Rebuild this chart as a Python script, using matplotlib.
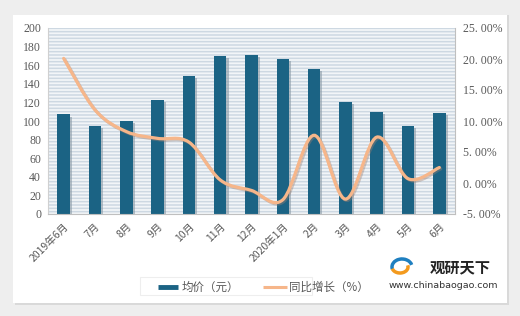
import numpy as np
import matplotlib
matplotlib.use('Agg')
import matplotlib.pyplot as plt
from matplotlib.path import Path
from matplotlib.patches import PathPatch, Rectangle, Arc
import matplotlib.patheffects as pe

plt.rcParams['font.family'] = ['Noto Sans CJK SC', 'DejaVu Sans']
plt.rcParams['hatch.linewidth'] = 1.1
plt.rcParams['hatch.color'] = '#cdd8e2'

months = ['2019年6月', '7月', '8月', '9月', '10月', '11月', '12月',
          '2020年1月', '2月', '3月', '4月', '5月', '6月']
avg_price = [107, 95, 100, 123, 148, 170, 171, 167, 156, 120, 110, 95, 109]
yoy_growth = [20.1, 11.8, 8.3, 7.2, 6.6, 0.5, -1.2, -2.7, 7.7, -2.6, 7.4, 0.7, 2.5]

BAR_COLOR = '#1b6384'
LINE_COLOR = '#f6b68a'
TEXT_COLOR = '#595959'


def smooth_path(xs, ys):
    # Bezier segments through every point, like Excel's smoothed line
    xs = np.asarray(xs, float)
    ys = np.asarray(ys, float)
    n = len(xs)
    verts = [(xs[0], ys[0])]
    codes = [Path.MOVETO]
    for i in range(n - 1):
        i0 = max(i - 1, 0)
        i3 = min(i + 2, n - 1)
        c1 = (xs[i] + (xs[i + 1] - xs[i0]) / 6, ys[i] + (ys[i + 1] - ys[i0]) / 6)
        c2 = (xs[i + 1] - (xs[i3] - xs[i]) / 6, ys[i + 1] - (ys[i3] - ys[i]) / 6)
        verts += [c1, c2, (xs[i + 1], ys[i + 1])]
        codes += [Path.CURVE4] * 3
    return Path(verts, codes)


fig = plt.figure(figsize=(5.2, 3.16), dpi=100)
fig.patch.set_facecolor('#eeeeee')

# white card with a soft shadow
fig.patches.append(Rectangle((15 / 520, 1 - 305 / 316), 494 / 520, 290 / 316,
                             transform=fig.transFigure, facecolor='#d9d9d9',
                             edgecolor='none', zorder=-3))
fig.patches.append(Rectangle((13 / 520, 1 - 303 / 316), 494 / 520, 288 / 316,
                             transform=fig.transFigure, facecolor='white',
                             edgecolor='none', zorder=-2))

ax = fig.add_axes([48 / 520, 1 - 214 / 316, 407 / 520, 186 / 316])
ax.set_facecolor('#f2f5f8')
ax.add_patch(Rectangle((0, 0), 1, 1, transform=ax.transAxes, facecolor='none',
                       edgecolor='#cdd8e2', hatch='-----', lw=0, zorder=0))

x = np.arange(len(months))
bars = ax.bar(x, avg_price, width=0.4, color=BAR_COLOR, zorder=2)
for b in bars:
    b.set_path_effects([pe.SimplePatchShadow(offset=(1.5, -1.5), shadow_rgbFace='#8a9aa6', alpha=0.6),
                        pe.Normal()])

ax.set_xlim(-0.5, len(months) - 0.5)
ax.set_ylim(0, 200)
ax.set_yticks(range(0, 201, 20))
ax.set_xticks(x)
ax.set_xticklabels(months, rotation=45, ha='right', rotation_mode='anchor')
ax.tick_params(length=0, colors=TEXT_COLOR, labelsize=7.5, pad=5)
for lbl in ax.get_yticklabels():
    lbl.set_family('Liberation Serif')
    lbl.set_fontsize(8.5)
for s in ['top', 'right']:
    ax.spines[s].set_visible(False)
ax.spines['left'].set_color('#d0d0d0')
ax.spines['bottom'].set_color('#bfbfbf')

ax2 = ax.twinx()
ax2.set_ylim(-5, 25)
ax2.set_yticks(range(-5, 26, 5))
ax2.set_yticklabels([('%.2f%%' % v).replace('.', '. ') for v in range(-5, 26, 5)])
ax2.tick_params(length=0, colors=TEXT_COLOR, pad=6)
for lbl in ax2.get_yticklabels():
    lbl.set_family('Liberation Serif')
    lbl.set_fontsize(8.5)
for s in ['top', 'left', 'bottom']:
    ax2.spines[s].set_visible(False)
ax2.spines['right'].set_color('#bfbfbf')

line = PathPatch(smooth_path(x, yoy_growth), facecolor='none', edgecolor=LINE_COLOR,
                 lw=2.3, zorder=3, capstyle='round')
line.set_path_effects([pe.SimpleLineShadow(offset=(1, -1), shadow_color='#a08070', alpha=0.4),
                       pe.Normal()])
ax2.add_patch(line)

# legend
fig.patches.append(Rectangle((140 / 520, 1 - 295 / 316), 172 / 520, 18 / 316,
                             transform=fig.transFigure, facecolor='white',
                             edgecolor='#eeeeee', lw=0.8, zorder=1))
fig.lines.append(plt.Line2D([158 / 520, 178 / 520], [1 - 287 / 316] * 2, transform=fig.transFigure,
                            color=BAR_COLOR, lw=3.5, solid_capstyle='butt', zorder=2))
fig.text(182 / 520, 1 - 287 / 316, '均价（元）', fontsize=8.3, color=TEXT_COLOR, va='center')
fig.lines.append(plt.Line2D([263 / 520, 287 / 520], [1 - 287 / 316] * 2, transform=fig.transFigure,
                            color=LINE_COLOR, lw=2.2, solid_capstyle='butt', zorder=2))
fig.text(289 / 520, 1 - 287 / 316, '同比增长（%）', fontsize=8.3, color=TEXT_COLOR, va='center')

# watermark logo
fig.patches.append(Arc((402 / 520, 1 - 267 / 316), 20 / 520, 16 / 316, theta1=20, theta2=200,
                       transform=fig.transFigure, color='#1e7fc0', lw=2.5))
fig.patches.append(Arc((400 / 520, 1 - 267 / 316), 16 / 520, 12 / 316, theta1=200, theta2=380,
                       transform=fig.transFigure, color='#f39a1e', lw=2.5))
fig.text(460 / 520, 1 - 267 / 316, '观研天下', fontsize=11, fontweight='bold', color='#222222',
         ha='center', va='center')
fig.text(443 / 520, 1 - 286 / 316, 'www.chinabaogao.com', fontsize=6.8, color='#333333',
         ha='center', va='center', family='DejaVu Sans')

fig.savefig('out.png', dpi=100, facecolor=fig.get_facecolor())
